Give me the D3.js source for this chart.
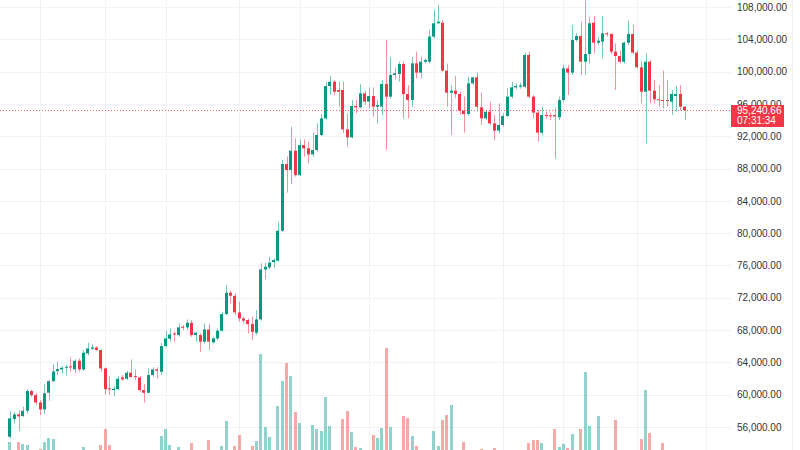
<!DOCTYPE html>
<html><head><meta charset="utf-8">
<script src="https://cdn.jsdelivr.net/npm/d3@7"></script>
<style>html,body{margin:0;padding:0;background:#fff;}svg{display:block}</style>
</head><body><svg id="c" width="800" height="450"></svg>
<script>
const startDay = "2024-09-09";
const endDay = "2025-02-12";
const open = [54790,56980,57560,57350,58010,60450,59950,59040,58180,60240,
61680,62920,63130,63340,63500,63130,64200,63130,65110,65690,
65850,65520,63250,60780,60570,60690,62140,61970,62720,62300,
62140,60570,60240,62430,63130,62840,66020,66930,67590,67380,
68410,68330,68910,67380,67380,66560,68080,66470,66970,67920,
69980,72620,72250,70190,69440,69240,68740,67670,69320,75510,
75760,76420,76590,80300,88560,87810,90210,87190,90910,90500,
89750,90290,92150,94210,98220,98750,97720,97720,92850,91860,
95740,95570,97310,96280,96980,95660,95660,98460,96900,99580,
99700,100940,97230,96480,101020,99870,101230,101230,104330,105980,
106060,100120,97390,97640,97230,95160,94750,98550,99290,95580,
94210,95040,93590,92690,93390,94500,96900,98050,98130,98130,
102060,96900,94920,92440,94630,94580,94630,94340,96480,100400,
99870,103910,104410,101230,102180,106060,103580,103710,104740,104660,
102470,101930,101230,103580,104660,102350,100530,97510,101230,97640,
96570,96480,96480,96280,96980,97230,95660];
const high = [57970,57890,58090,58510,60650,60650,60160,59330,61310,61810,
63790,64080,63540,63670,64620,64370,64490,65520,66430,66230,
66020,65610,63380,62300,61070,62300,62430,62960,64370,63130,
62350,61310,63250,63380,63380,66430,67920,68210,67790,68830,
68620,69320,69240,67790,67590,68830,68740,67170,68210,70270,
73570,72870,72540,71510,69650,69440,69650,70480,76260,76340,
77080,76880,81420,89050,89470,93180,91740,91610,91610,91320,
92440,93590,94750,98750,99460,98960,98750,98750,94830,96480,
96480,98460,97600,98050,98050,96480,98960,103900,101770,100500,
101230,101230,98340,101850,102470,101850,101640,105150,107630,108250,
106390,101000,98340,99460,97500,96900,99370,99370,99870,97390,
95240,96280,94630,96070,94830,97930,98750,98550,98630,102350,
102470,97100,95240,95660,95040,94920,95450,96900,100820,100820,
105770,104740,106180,109500,106800,106890,104330,106890,104950,104740,
103500,102670,103710,106310,105770,102670,101230,102260,101440,98960,
98340,100120,98960,97720,98220,98340,95660];
const low = [54580,56440,55530,57270,57680,59740,58710,57470,57600,59250,
61600,62430,62630,62350,62840,62630,62840,62960,64900,65520,
65440,62840,60030,59950,59830,60570,61730,61810,62140,61810,
60360,59000,60160,62220,62010,62430,65940,66560,66560,67170,
68000,68000,67170,66560,65320,66350,65520,66350,66760,67790,
69860,71300,69860,69030,68830,67590,66760,67380,69160,74280,
75510,75640,76460,80180,85010,86080,86990,87070,89470,88640,
89470,90080,92020,94090,97100,97100,95660,92400,90700,91740,
94830,95450,95900,95450,94420,93590,94630,90300,96690,99000,
98750,94210,94210,95660,99170,99170,101020,101020,104120,105980,
99990,95660,92150,96700,94630,92440,94500,98340,95240,93390,
94010,93390,91530,92360,93180,94420,96690,97800,97890,97930,
96690,94210,91320,92150,94210,94010,89250,94010,96280,97100,
99580,103710,99580,99580,101020,102260,103290,101640,104330,102180,
97720,101020,101020,103290,102180,100400,96070,91120,96070,96070,
95660,95450,95660,94630,95040,95160,94010];
const close = [57060,57560,57310,58010,60450,59950,59040,58180,60160,61680,
62880,63170,63340,63460,63380,64200,63130,65190,65730,65850,
65520,63250,60690,60650,60740,61970,61890,62720,62180,62180,
60570,60240,62430,63130,62960,66020,66970,67460,67460,68330,
68350,68910,67380,67670,66560,68080,66560,66970,67920,69980,
72620,72250,70190,69440,69160,68740,67790,69320,75510,75840,
76340,76670,80300,88560,87810,90210,87190,90910,90500,89750,
90290,92150,94210,98220,98750,97510,97510,92850,91860,95740,
95570,97310,96280,96980,95660,95860,98460,96900,99580,99790,
100940,97230,96480,101020,99870,101230,101440,104330,105980,106180,
100120,97390,97640,97230,95160,94750,98550,99290,95660,94210,
95040,93590,92690,93390,94500,96900,98050,98220,98300,102060,
96900,94920,92440,94630,94500,94500,94460,96480,100400,99870,
103910,104410,101230,102180,105980,103580,103830,104740,104660,102470,
101930,101230,103580,104660,102350,100530,97510,101230,97640,96570,
96480,96400,96400,97230,97230,95660,95240.66];
const volume = [28,14,28,26,25,12,10,21,28,32,
31,16,8,9,15,13,14,23,17,8,
9,25,41,25,18,17,8,10,16,12,
16,18,19,12,10,34,41,25,15,23,
9,13,27,14,18,19,30,10,12,24,
49,18,24,35,10,16,24,29,116,43,
33,18,64,89,107,94,58,47,19,17,
45,41,39,73,44,19,18,51,59,38,
23,22,16,14,35,32,42,122,43,17,
19,54,52,34,24,18,8,19,39,24,
50,55,65,16,19,28,19,9,19,21,
10,18,22,17,12,18,15,8,9,19,
27,30,30,27,10,9,41,23,26,22,
36,14,41,98,44,19,54,18,9,16,
50,19,18,17,18,19,31,80,37,19,
17,27,12,19,17,16,8];
const priceTicks = [56000,60000,64000,68000,72000,76000,80000,84000,88000,92000,96000,100000,104000,108000];
const timeGridDays = ["2024-09-16","2024-10-01","2024-10-15","2024-11-01","2024-11-15","2024-12-01","2024-12-16","2025-01-01","2025-01-15","2025-02-01","2025-02-17"];
const lastPrice = 95240.66;
const countdown = "07:31:34";

const parse = d3.utcParse("%Y-%m-%d");
const days = d3.utcDay.range(parse(startDay), d3.utcDay.offset(parse(endDay), 1));
const candles = days.map((d, i) => ({date: d, o: open[i], h: high[i], l: low[i], c: close[i], v: volume[i]}));

const W = 800, H = 450, plotRight = 731;
const green = "#089981", red = "#f23645";
const svg = d3.select("#c");
svg.append("rect").attr("width", W).attr("height", H).attr("fill", "#fff");

const x = d3.scaleUtc().domain([parse(startDay), parse(endDay)]).range([9.85, 684.55]);
const y = d3.scaleLinear().domain([56000, 108000]).range([427, 7]);
const yv = d3.scaleLinear().domain([0, 125]).range([470, 345]);

const grid = svg.append("g");
grid.selectAll(".hg").data(priceTicks).join("line")
  .attr("x1", 0).attr("x2", plotRight)
  .attr("y1", d => Math.round(y(d)) + 0.5).attr("y2", d => Math.round(y(d)) + 0.5)
  .attr("stroke", "#f0f2f5").attr("stroke-width", 1);
grid.selectAll(".vg").data(timeGridDays.map(parse)).join("line")
  .attr("x1", d => Math.round(x(d)) + 0.5).attr("x2", d => Math.round(x(d)) + 0.5)
  .attr("y1", 0).attr("y2", H)
  .attr("stroke", "#f0f2f5").attr("stroke-width", 1);
svg.append("line").attr("x1", 792.5).attr("x2", 792.5).attr("y1", 0).attr("y2", H)
  .attr("stroke", "#f0f2f5");

const bw = 3;
svg.append("g").selectAll("rect").data(candles).join("rect")
  .attr("x", d => Math.round(x(d.date) - bw / 2))
  .attr("width", bw)
  .attr("y", d => yv(d.v))
  .attr("height", d => yv(0) - yv(d.v))
  .attr("fill", d => d.c >= d.o ? "#26a69a" : "#ef5350")
  .attr("fill-opacity", 0.5)
  .attr("shape-rendering", "crispEdges");

const cg = svg.append("g");
cg.selectAll("line").data(candles).join("line")
  .attr("x1", d => Math.round(x(d.date)) + 0.5).attr("x2", d => Math.round(x(d.date)) + 0.5)
  .attr("y1", d => y(d.h)).attr("y2", d => y(d.l))
  .attr("stroke", d => d.c >= d.o ? green : red)
  .attr("stroke-opacity", 0.55).attr("stroke-width", 1);
cg.selectAll("rect").data(candles).join("rect")
  .attr("x", d => Math.round(x(d.date) - bw / 2))
  .attr("width", bw)
  .attr("y", d => y(Math.max(d.o, d.c)))
  .attr("height", d => Math.max(1, y(Math.min(d.o, d.c)) - y(Math.max(d.o, d.c))))
  .attr("fill", d => d.c >= d.o ? green : red);

svg.append("line")
  .attr("x1", 0).attr("x2", plotRight)
  .attr("y1", Math.round(y(lastPrice)) + 0.5).attr("y2", Math.round(y(lastPrice)) + 0.5)
  .attr("stroke", red).attr("stroke-width", 1).attr("stroke-dasharray", "1,2").attr("stroke-opacity", 0.8);

const fmt = d3.format(",.2f");
const axis = d3.axisRight(y).tickValues(priceTicks).tickSize(0).tickPadding(0).tickFormat(fmt);
const ag = svg.append("g").attr("transform", "translate(737,0)").call(axis);
ag.select(".domain").remove();
ag.selectAll("text").attr("font-family", "Liberation Sans, Arial, sans-serif").attr("font-size", 10).attr("fill", "#333").attr("x", 0);

const ly = y(lastPrice);
svg.append("rect").attr("x", 731).attr("y", Math.round(ly) - 5).attr("width", 53).attr("height", 22).attr("fill", red);
svg.append("text").attr("x", 737).attr("y", Math.round(ly) + 4).text(fmt(lastPrice))
  .attr("font-family", "Liberation Sans, Arial, sans-serif").attr("font-size", 10).attr("fill", "#fff");
svg.append("text").attr("x", 737).attr("y", Math.round(ly) + 14).text(countdown)
  .attr("font-family", "Liberation Sans, Arial, sans-serif").attr("font-size", 10).attr("fill", "#fff");
</script></body></html>
